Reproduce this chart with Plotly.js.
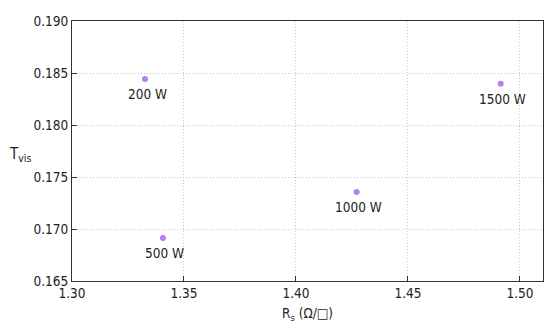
<!DOCTYPE html>
<html><head><meta charset="utf-8">
<script src="https://cdn.plot.ly/plotly-3.0.1.min.js"></script>
<style>html,body{margin:0;padding:0;background:#fff}#c{width:550px;height:330px}</style>
</head><body><div id="c"></div>
<script>
const rs = [1.3326, 1.3406, 1.4271, 1.4914];
const tvis = [0.18442, 0.16913, 0.17356, 0.18397];
const labels = ["200 W", "500 W", "1000 W", "1500 W"];
const xTicks = [1.30, 1.35, 1.40, 1.45, 1.50];
const yTicks = [0.165, 0.170, 0.175, 0.180, 0.185, 0.190];

const fam = "DejaVu Sans Condensed, DejaVu Sans, sans-serif";
const txt = "#222";
const trace = {
  x: rs, y: tvis, mode: "markers", type: "scatter",
  marker: {color: "#b77ff0", size: 6},
  hoverinfo: "skip"
};
const grid = {showgrid: true, gridcolor: "#c4c4c4", griddash: "1px,2px", gridwidth: 1};
const pointLabels = labels.map((t, i) => ({
  text: t, x: rs[i], y: tvis[i], xref: "x", yref: "y",
  xanchor: "center", yanchor: "middle", yshift: -15, xshift: 2, showarrow: false,
  font: {family: fam, size: 13.5, color: txt}
}));
const layout = {
  width: 550, height: 330,
  margin: {l: 72, r: 7, t: 21, b: 49},
  paper_bgcolor: "#fff", plot_bgcolor: "#fff",
  font: {family: fam, size: 13.5, color: txt}, showlegend: false,
  xaxis: Object.assign({
    range: [1.30, 1.5103], tickvals: xTicks, ticktext: xTicks.map(v => v.toFixed(2)),
    ticks: "inside", ticklen: 5, tickcolor: "#333",
    showline: true, linecolor: "#333", linewidth: 1, mirror: true, zeroline: false,
    tickfont: {family: fam, size: 13.5, color: txt},
    title: {text: "R<sub>s</sub> (Ω/□)", font: {family: fam, size: 13.5, color: txt}, standoff: 8}
  }, grid),
  yaxis: Object.assign({
    range: [0.165, 0.190], tickvals: yTicks, ticktext: yTicks.map(v => v.toFixed(3)),
    ticks: "inside", ticklen: 5, tickcolor: "#333",
    showline: true, linecolor: "#333", linewidth: 1, mirror: true, zeroline: false,
    tickfont: {family: fam, size: 13.5, color: txt}
  }, grid),
  annotations: [{
    text: "T<sub>vis</sub>", xref: "paper", yref: "paper", x: -0.138, y: 0.485,
    xanchor: "left", yanchor: "middle", showarrow: false,
    font: {family: fam, size: 15, color: txt}
  }].concat(pointLabels)
};
Plotly.newPlot("c", [trace], layout, {staticPlot: true, displayModeBar: false});
</script></body></html>
